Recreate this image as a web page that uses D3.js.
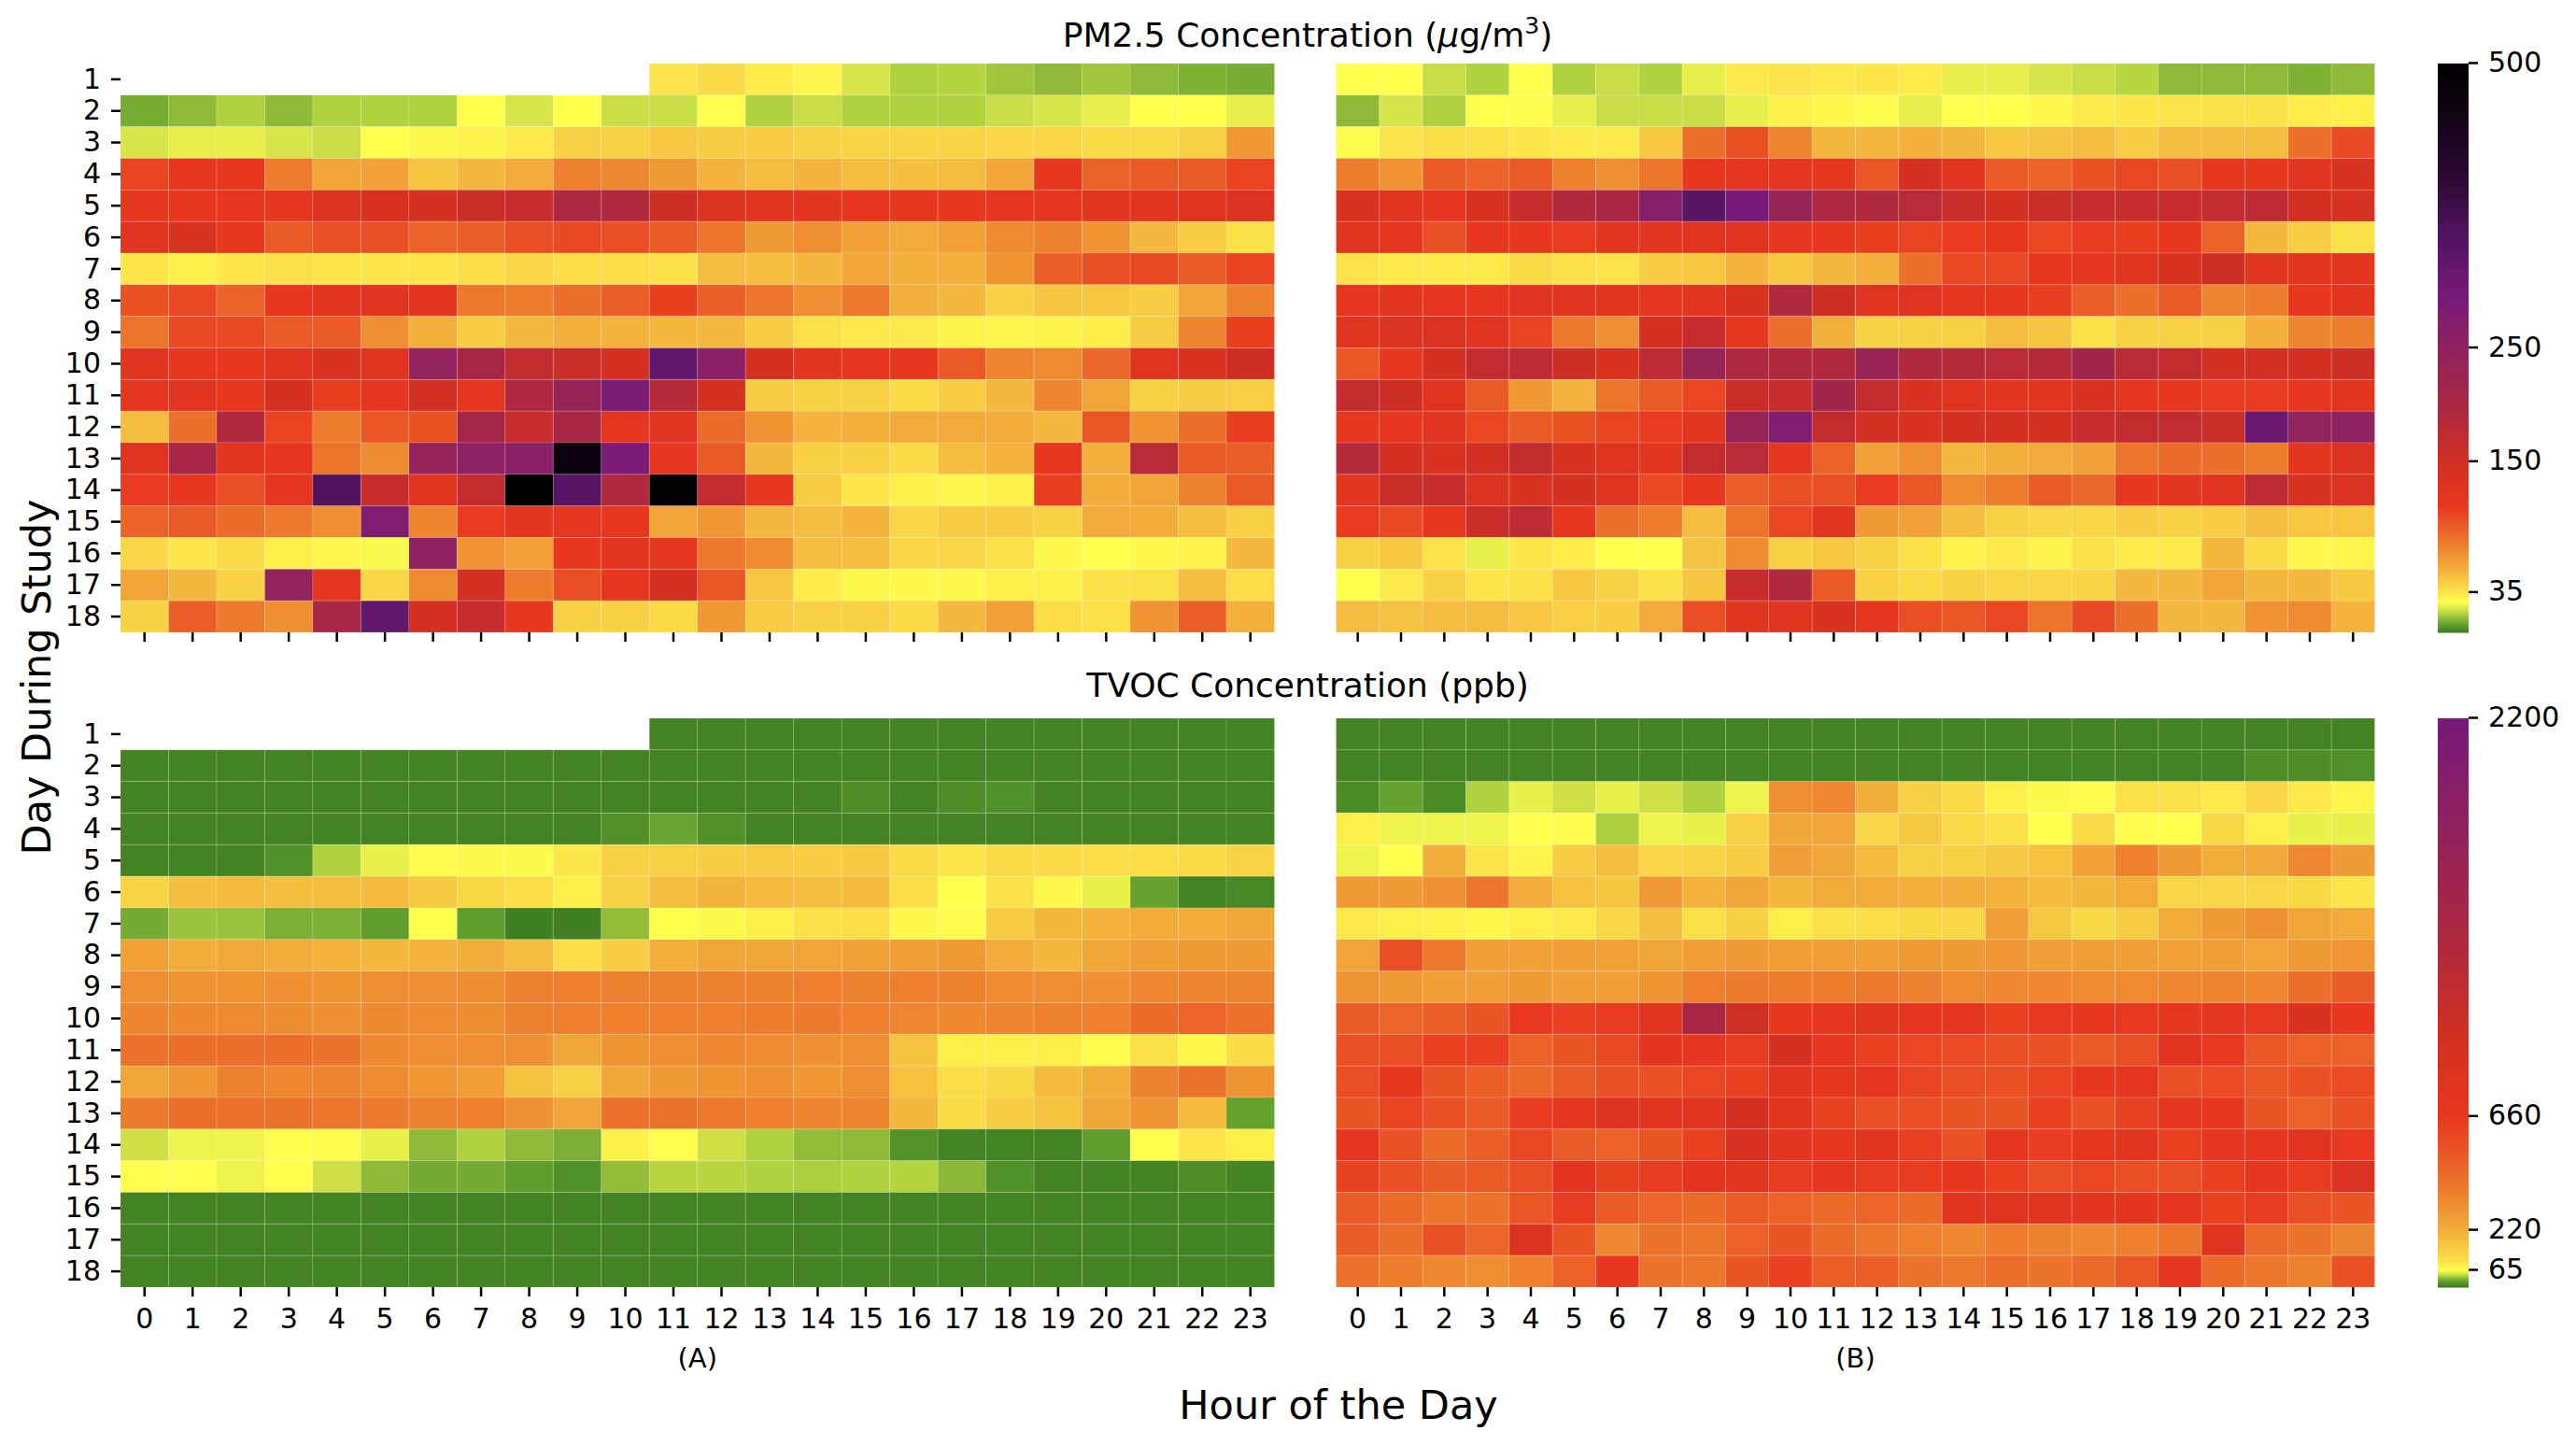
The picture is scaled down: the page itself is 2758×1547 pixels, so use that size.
<!DOCTYPE html>
<html>
<head>
<meta charset="utf-8">
<script src="https://cdn.jsdelivr.net/npm/d3@7"></script>
<style>
  html, body { margin: 0; padding: 0; background: #fff; }
  text { font-family: "DejaVu Sans", sans-serif; fill: #000; }
  .axis text { font-size: 30px; }
  .axis path { display: none; }
  .axis line { stroke: #000; stroke-width: 2.5; }
  .title { font-size: 36px; }
  .axisLabel { font-size: 43px; }
  .panelLabel { font-size: 29px; }
</style>
</head>
<body>
<div id="chart"></div>
<script>
const hours = d3.range(24);
const days = d3.range(1, 19);
const n = null;

const pmA = [
  [n,n,n,n,n,n,n,n,n,n,n,35,38,32,29,21,16,16.5,14,12,14,12,10,9],
  [9,12,16,12,16,16,16,26,21,26,19,19,26.5,16,19,16,16,16,19,21,23,26,26,23],
  [21,23,23,21,19,26,28,30,33,42,42,46,44,44,42,41,41,41,40,40,39,39,42,66],
  [105,112,112,78,60,62,47,52,58,76,73,65,54,50,54,50,49,50,60,112,90,94,94,106],
  [118,113,115,118,135,142,145,160,165,195,190,155,135,128,120,116,114,114,116,118,120,122,128,132],
  [130,140,113,94,100,100,90,92,100,103,100,94,82,65,70,62,58,62,72,76,68,52,44,36],
  [34,31,34,36,34,34,34,37,40,37,37,36,50,50,52,60,56,56,68,92,100,102,94,106],
  [98,102,90,112,122,125,120,80,78,84,92,108,92,82,70,80,56,52,42,47,46,44,60,76],
  [82,102,102,94,94,70,56,44,52,56,54,52,52,44,36,33,33,30,29,30,32,44,74,108],
  [125,114,114,125,140,128,245,205,170,160,145,325,260,145,120,116,118,94,74,72,88,130,140,155],
  [118,125,113,145,108,118,150,118,195,235,285,185,145,44,42,42,38,44,52,74,60,42,44,43],
  [50,84,190,106,78,96,98,210,165,200,118,125,86,68,54,55,58,58,57,52,96,68,84,108],
  [130,205,122,115,82,72,240,255,260,470,290,115,94,52,42,42,38,50,54,112,56,180,94,92],
  [110,114,100,115,350,165,122,170,498,340,190,490,170,112,44,34,31,29,31,108,57,60,76,94],
  [90,94,86,80,70,280,74,110,120,115,113,60,66,52,50,54,40,44,44,42,58,57,50,42],
  [40,34,38,31,29,25,250,68,62,112,120,118,80,72,50,50,40,40,36,28,26,28,30,52],
  [60,52,42,245,118,40,72,150,78,100,115,148,96,46,32,28,28,28,31,31,36,36,50,37],
  [42,92,80,70,205,325,148,165,112,42,42,38,66,44,42,42,38,52,62,37,36,68,92,55]
];

const pmB = [
  [26,26,19,16,26,16,19,16,23,33,35,33,34,32,23,23,21,19,17,12,12,12,10,12],
  [12,21,16,26,27,23,19,19,19,23,31,28,27,23,26,26,28,33,34,35,36,36,32,31],
  [27,35,37,36,34,33,33,45,84,98,74,52,52,55,52,46,48,50,44,50,50,50,84,102],
  [78,68,94,90,94,76,70,82,112,115,118,114,96,145,125,94,90,98,104,100,112,112,125,140],
  [140,125,115,140,165,190,200,265,340,295,235,195,190,180,160,145,160,165,165,165,170,175,150,142],
  [130,115,100,112,113,110,122,120,128,126,118,112,108,105,110,113,104,110,108,112,90,52,44,36],
  [35,33,33,33,38,36,35,44,46,54,46,52,56,84,104,103,112,118,125,140,155,125,122,120],
  [116,120,116,115,125,125,122,118,122,140,190,155,130,128,115,112,108,92,84,94,74,78,114,122],
  [125,135,135,130,106,80,70,145,165,112,84,56,42,42,42,50,47,36,42,42,42,55,74,78],
  [96,112,145,170,175,155,140,175,235,195,190,190,230,190,185,180,185,215,180,170,150,150,150,155],
  [170,155,130,94,66,54,82,94,104,160,165,215,170,140,128,120,122,138,115,112,110,110,115,122],
  [112,115,128,104,94,98,106,110,122,235,280,170,150,140,145,148,148,165,170,172,160,315,245,250],
  [185,145,140,150,170,140,130,120,170,180,118,90,62,70,52,56,58,62,82,86,84,78,120,135],
  [120,160,165,135,140,145,130,102,112,92,100,100,110,96,72,78,94,88,112,120,126,175,140,135],
  [110,102,112,160,175,112,84,78,50,82,104,125,64,62,50,42,40,40,44,42,44,50,46,46],
  [42,46,35,23,34,32,26,26,48,72,42,46,42,36,30,33,30,36,32,33,52,38,28,29],
  [26,33,42,34,36,46,42,36,47,165,190,94,42,38,42,40,40,41,52,52,60,52,52,45],
  [50,48,50,50,46,43,44,58,100,125,128,140,118,100,96,104,82,102,84,52,52,68,72,54]
];

const tvocA = [
  [n,n,n,n,n,n,n,n,n,n,n,5,5,5,5,5,5,5,5,5,5,5,5,5],
  [5,5,5,5,5,5,5,5,5,5,5,5,5,5,5,5,5,5,5,5,5,5,5,5],
  [5,5,5,5,5,5,5,5,5,5,5,5,5,5,5,12,5,12,13,5,5,5,5,5],
  [5,5,5,5,5,5,5,5,5,5,14,25,14,5,5,5,5,5,5,5,5,5,5,5],
  [5,5,5,13,43,58,70,72,72,92,140,140,145,150,145,155,115,95,115,115,105,105,115,130],
  [130,180,190,180,180,190,155,120,105,85,135,180,205,190,180,190,105,66,100,75,58,24,5,8],
  [28,38,38,30,30,22,66,22,3,3,36,66,72,85,100,105,75,70,150,195,210,225,225,240],
  [260,220,235,225,210,200,210,220,185,105,145,215,240,245,250,255,265,280,230,200,240,270,280,280],
  [320,305,305,310,300,320,320,325,365,370,365,360,365,360,370,360,370,360,330,320,310,340,345,350],
  [345,335,330,325,310,335,330,325,360,370,370,370,370,380,385,370,340,335,345,360,370,435,470,420],
  [420,430,430,430,410,335,320,320,310,240,300,320,340,330,310,315,170,85,85,85,70,100,75,110],
  [240,290,360,340,350,330,290,270,170,140,240,280,300,310,285,320,175,105,120,190,220,360,410,300],
  [385,430,420,410,400,385,360,370,310,250,420,410,390,370,345,345,200,110,150,170,245,300,190,24],
  [50,60,60,68,70,58,35,43,35,30,80,68,50,43,36,35,15,5,5,5,22,66,95,85],
  [68,68,60,67,50,35,28,28,22,13,36,45,45,43,42,43,44,34,13,5,5,5,12,6],
  [5,5,5,5,5,5,5,5,5,5,5,5,5,5,5,5,5,5,5,5,5,5,5,5],
  [5,5,5,5,5,5,5,5,5,5,5,5,5,5,5,5,5,5,5,5,5,5,5,5],
  [5,5,5,5,5,5,5,5,5,5,5,5,5,5,5,5,5,5,5,5,5,5,5,5]
];

const tvocB = [
  [5,5,5,5,5,5,5,5,5,5,5,5,5,5,5,5,5,5,5,5,5,5,5,5],
  [5,5,5,5,5,5,5,5,5,5,5,5,5,5,5,5,5,5,5,5,5,12,12,13],
  [10,24,10,43,58,50,58,50,43,60,320,340,220,135,115,80,72,70,100,100,90,125,90,76],
  [85,60,60,60,68,70,42,60,58,140,240,250,125,160,115,100,66,115,65,66,120,85,58,58],
  [60,66,220,95,78,150,180,125,130,145,270,240,190,140,135,160,175,260,370,280,220,235,340,280],
  [280,280,310,400,225,175,165,280,210,245,200,230,230,215,220,210,190,200,230,125,125,125,120,95],
  [90,85,80,75,85,90,125,180,100,135,85,100,105,120,125,270,160,120,150,230,280,310,250,230],
  [250,560,390,270,260,270,260,240,270,280,270,270,270,280,280,290,270,265,270,260,265,250,280,295],
  [300,280,270,270,280,270,270,300,370,385,380,380,390,360,330,340,340,330,330,340,350,340,430,500],
  [500,470,490,530,650,620,640,800,1400,1000,680,700,760,700,720,620,650,680,650,660,710,650,870,680],
  [560,560,620,620,480,530,580,730,710,640,950,690,620,590,570,550,540,510,560,800,650,520,480,480],
  [560,660,530,490,450,500,540,540,590,620,740,680,720,600,560,540,600,680,720,560,570,520,540,570],
  [530,600,540,500,630,700,820,780,800,950,750,610,560,560,530,530,620,540,610,710,680,530,480,540],
  [720,540,440,490,590,500,480,530,620,900,770,680,740,620,540,700,630,670,760,620,720,690,780,650],
  [610,540,500,510,560,730,610,640,730,750,640,700,640,640,670,620,560,590,560,560,620,690,640,850],
  [500,450,400,420,520,640,510,460,450,510,480,450,470,440,740,810,770,730,730,700,620,640,560,530],
  [500,430,540,470,830,530,340,410,400,480,530,450,400,370,340,380,360,340,370,400,790,450,410,350],
  [420,380,340,320,370,480,680,410,400,530,620,490,490,410,390,430,410,450,520,710,450,400,360,540]
];

// colour stops
const pmDomain = [0,6,12,16,21,26,36,52,72,94,112,150,195,250,297,350,400,453,500];
const pmColors = ["#3b7b20","#5f9e2d","#8fba38","#b0d23f","#d8e54a","#ffff4d","#fbe048","#f4b83e","#ee8a30","#ea5a26","#e8371f","#d23022","#ad2840","#8f2260","#771a7a","#50145f","#2d0a35","#150418","#000000"];
const tvocDomain = [0,22,35,43,50,58,66,100,150,220,330,440,550,660,975,1355,1800,2200];
const tvocColors = ["#3b7b20","#5f9e2d","#8fba38","#b0d23f","#cfe046","#e8f04a","#ffff4d","#fbe048","#f6cc42","#f2ae3a","#ee8a30","#eb6b29","#ea5025","#e8371f","#d23022","#ad2840","#8f2260","#771a7a"];
const pmTicks = [35, 150, 250, 500];
const tvocTicks = [65, 220, 660, 2200];

const width = 2758;
const height = 1547;
const left = { x0: 129, x1: 1364.5 };
const right = { x0: 1430.5, x1: 2542.5 };
const top1 = { y0: 68, y1: 677 };
const top2 = { y0: 769, y1: 1378 };
const bar = { x0: 2610, x1: 2643 };

const svg = d3.select("#chart")
    .append("svg")
    .attr("width", width)
    .attr("height", height)
    .style("display", "block");

const pmScale = d3.scaleLinear().domain(pmDomain).range(pmColors);
const tvocScale = d3.scaleLinear().domain(tvocDomain).range(tvocColors);

function heatmap(rows, color, xr, yr, showY, showXLabels) {
    const x = d3.scaleBand().domain(hours).range([xr.x0, xr.x1]);
    const y = d3.scaleBand().domain(days).range([yr.y0, yr.y1]);

    const cells = rows.flatMap((row, i) => row.map((v, j) => ({ day: days[i], hour: hours[j], v })))
        .filter(d => d.v !== null);

    svg.append("g").selectAll("rect")
        .data(cells)
        .enter()
        .append("rect")
        .attr("x", d => x(d.hour))
        .attr("y", d => y(d.day))
        .attr("width", x.bandwidth())
        .attr("height", y.bandwidth())
        .attr("fill", d => color(d.v))
        .attr("stroke", "rgba(255,255,255,0.16)")
        .attr("stroke-width", 1);

    const xAxis = d3.axisBottom(x).tickSizeOuter(0).tickSize(10).tickPadding(13);
    if (!showXLabels) xAxis.tickFormat("");
    svg.append("g")
        .attr("class", "axis")
        .attr("transform", `translate(0,${yr.y1})`)
        .call(xAxis);

    if (showY) {
        svg.append("g")
            .attr("class", "axis")
            .attr("transform", `translate(${xr.x0},0)`)
            .call(d3.axisLeft(y).tickSizeOuter(0).tickSize(10).tickPadding(11));
    }
}

function colorbar(color, vmax, ticks, yr) {
    const y = d3.scaleLinear().domain([0, vmax]).range([yr.y1 - 1, yr.y0 - 1]);
    const steps = d3.range(0, yr.y1 - yr.y0);
    svg.append("g").selectAll("rect")
        .data(steps)
        .enter()
        .append("rect")
        .attr("x", bar.x0)
        .attr("y", d => yr.y1 - d - 1)
        .attr("width", bar.x1 - bar.x0)
        .attr("height", 1.5)
        .attr("fill", d => color(y.invert(yr.y1 - d - 1)));

    svg.append("g")
        .attr("class", "axis")
        .attr("transform", `translate(${bar.x1},0)`)
        .call(d3.axisRight(y).tickValues(ticks).tickFormat(d3.format("d")).tickSizeOuter(0).tickSize(10).tickPadding(11));
}

heatmap(pmA, pmScale, left, top1, true, false);
heatmap(pmB, pmScale, right, top1, false, false);
heatmap(tvocA, tvocScale, left, top2, true, true);
heatmap(tvocB, tvocScale, right, top2, false, true);
colorbar(pmScale, 500, pmTicks, top1);
colorbar(tvocScale, 2200, tvocTicks, top2);

// titles
const pmTitle = svg.append("text")
    .attr("class", "title")
    .attr("x", 1400)
    .attr("y", 50)
    .attr("text-anchor", "middle");
pmTitle.append("tspan").text("PM2.5 Concentration (");
pmTitle.append("tspan").attr("font-style", "italic").text("\u00b5");
pmTitle.append("tspan").text("g/m");
pmTitle.append("tspan").attr("font-size", 25).attr("dy", -14).text("3");
pmTitle.append("tspan").attr("dy", 14).text(")");

svg.append("text")
    .attr("class", "title")
    .attr("x", 1400)
    .attr("y", 746)
    .attr("text-anchor", "middle")
    .text("TVOC Concentration (ppb)");

svg.append("text")
    .attr("class", "panelLabel")
    .attr("x", (left.x0 + left.x1) / 2)
    .attr("y", 1464)
    .attr("text-anchor", "middle")
    .text("(A)");

svg.append("text")
    .attr("class", "panelLabel")
    .attr("x", (right.x0 + right.x1) / 2)
    .attr("y", 1464)
    .attr("text-anchor", "middle")
    .text("(B)");

svg.append("text")
    .attr("class", "axisLabel")
    .attr("x", 1433)
    .attr("y", 1519)
    .attr("text-anchor", "middle")
    .text("Hour of the Day");

svg.append("text")
    .attr("class", "axisLabel")
    .attr("transform", "rotate(-90)")
    .attr("x", -725)
    .attr("y", 54)
    .attr("text-anchor", "middle")
    .text("Day During Study");
</script>
</body>
</html>
